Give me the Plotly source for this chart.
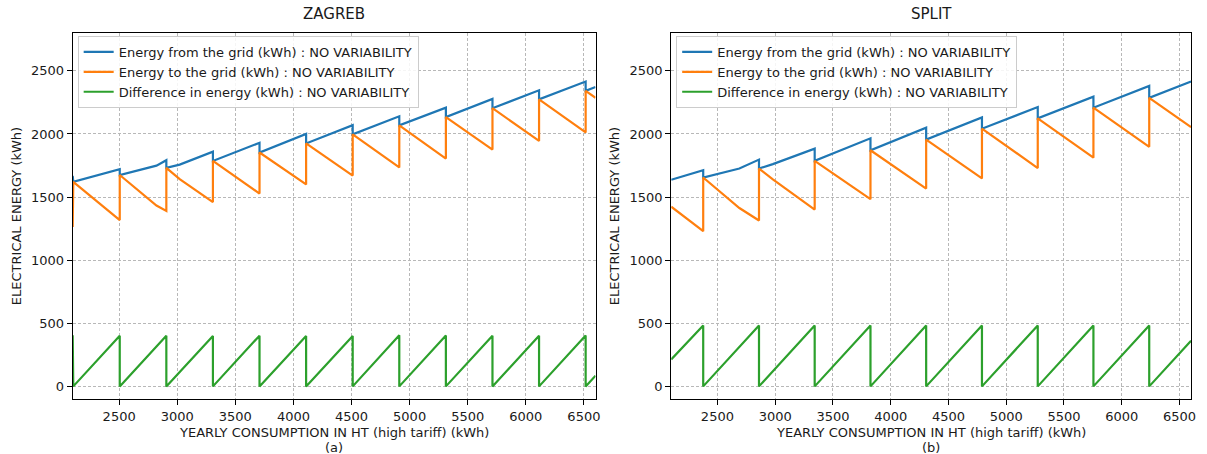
import plotly.graph_objects as go

# ---------------- DATA ----------------
# ZAGREB panel (a)
zg_x = [2100, 2105, 2505, 2505, 2821, 2906, 2906, 3021, 3307, 3307, 3708, 3708, 4109, 4109,
        4510, 4510, 4911, 4911, 5312, 5312, 5713, 5713, 6114, 6114, 6515, 6515, 6600]
zg_from = [1668, 1620, 1720, 1675, 1749, 1792, 1732, 1757, 1860, 1786, 1930, 1853, 2000, 1925,
           2070, 1997, 2140, 2068, 2208, 2134, 2278, 2204, 2346, 2274, 2415, 2342, 2372]
zg_to = [1262, 1620, 1318, 1675, 1433, 1390, 1732, 1642, 1460, 1786, 1528, 1853, 1600, 1925,
         1670, 1997, 1735, 2068, 1805, 2134, 1876, 2204, 1945, 2274, 2012, 2342, 2287]
zg_diff = [406, 0, 402, 0, 316, 402, 0, 115, 400, 0, 402, 0, 400, 0,
           400, 0, 405, 0, 403, 0, 402, 0, 401, 0, 403, 0, 85]

# SPLIT panel (b)
st_x = [2100, 2377, 2377, 2690, 2860, 2860, 2980, 3342, 3342, 3825, 3825, 4307, 4307,
        4790, 4790, 5273, 5273, 5755, 5755, 6238, 6238, 6600]
st_from = [1637, 1713, 1655, 1726, 1797, 1726, 1761, 1884, 1787, 1966, 1871, 2050, 1955,
           2131, 2042, 2213, 2124, 2295, 2208, 2381, 2286, 2416]
st_to = [1424, 1230, 1655, 1413, 1314, 1726, 1641, 1401, 1787, 1483, 1871, 1567, 1955,
         1648, 2042, 1730, 2124, 1812, 2208, 1898, 2286, 2054]
st_diff = [213, 483, 0, 313, 483, 0, 120, 483, 0, 483, 0, 483, 0,
           483, 0, 483, 0, 483, 0, 483, 0, 362]

series_names = ["Energy from the grid (kWh) : NO VARIABILITY",
                "Energy to the grid (kWh) : NO VARIABILITY",
                "Difference in energy (kWh) : NO VARIABILITY"]
colors = ["#1f77b4", "#ff7f0e", "#2ca02c"]
panel_titles = ["ZAGREB", "SPLIT"]
panel_tags = ["(a)", "(b)"]
x_ticks = [2500, 3000, 3500, 4000, 4500, 5000, 5500, 6000, 6500]
y_ticks = [0, 500, 1000, 1500, 2000, 2500]
x_title = "YEARLY CONSUMPTION IN HT (high tariff) (kWh)"
y_title = "ELECTRICAL ENERGY (kWh)"

# ---------------- FIGURE ----------------
W, H = 1207, 454
FONT = "DejaVu Sans, Liberation Sans, sans-serif"
TXT = "#1a1a1a"
fig = go.Figure()

panels = [(zg_x, [zg_from, zg_to, zg_diff]), (st_x, [st_from, st_to, st_diff])]
for p, (xs, ys) in enumerate(panels):
    xa = "x" if p == 0 else "x2"
    ya = "y" if p == 0 else "y2"
    lg = "legend" if p == 0 else "legend2"
    for name, col, yv in zip(series_names, colors, ys):
        fig.add_trace(go.Scatter(x=xs, y=yv, mode="lines", name=name,
                                 line=dict(color=col, width=2.2),
                                 xaxis=xa, yaxis=ya, legend=lg, showlegend=True))

ax_left = [(73, 598), (674, 1196)]
ax_top, ax_bot = 33, 399
ydom = [1 - ax_bot / H, 1 - ax_top / H]

axis_common = dict(showline=True, linecolor="black", linewidth=1, mirror=True,
                   ticks="outside", ticklen=5, tickcolor="black",
                   showgrid=True, gridcolor="#b8b8b8", griddash="3px,2px", gridwidth=0.8,
                   zeroline=False, tickfont=dict(family=FONT, size=13, color=TXT))

layout = dict(width=W, height=H, margin=dict(l=0, r=0, t=0, b=0),
              paper_bgcolor="white", plot_bgcolor="white",
              font=dict(family=FONT, size=13, color=TXT))
for p in range(2):
    sfx = "" if p == 0 else "2"
    l, r = ax_left[p]
    layout["xaxis" + sfx] = dict(axis_common, domain=[l / W, r / W], range=[2100, 6600],
                                 tickvals=x_ticks, anchor="y" + sfx)
    layout["yaxis" + sfx] = dict(axis_common, domain=ydom, range=[-100, 2800],
                                 tickvals=y_ticks, anchor="x" + sfx,
                                 title=dict(text=y_title,
                                            font=dict(family=FONT, size=13, color=TXT),
                                            standoff=6))
    leg = dict(x=(l + 5) / W, y=1 - (ax_top + 3) / H, xanchor="left", yanchor="top",
               bgcolor="rgba(255,255,255,0.85)", bordercolor="#cccccc", borderwidth=1,
               font=dict(family=FONT, size=13, color=TXT), tracegroupgap=0,
               itemwidth=30)
    layout["legend" if p == 0 else "legend2"] = leg

fig.update_layout(**layout)
for p in range(2):
    l, r = ax_left[p]
    cx = (l + r) / 2 / W
    fig.add_annotation(text=panel_titles[p], x=cx, y=1 - 14 / H,
                       xanchor="center", yanchor="middle",
                       xref="paper", yref="paper", showarrow=False,
                       font=dict(family=FONT, size=15, color=TXT))
    fig.add_annotation(text=x_title, x=cx, y=1 - 432 / H,
                       xanchor="center", yanchor="middle",
                       xref="paper", yref="paper", showarrow=False,
                       font=dict(family=FONT, size=13, color=TXT))
    fig.add_annotation(text=panel_tags[p], x=cx, y=1 - 447 / H,
                       xanchor="center", yanchor="middle",
                       xref="paper", yref="paper", showarrow=False,
                       font=dict(family=FONT, size=13, color=TXT))

fig.write_html("out.html", config={"displayModeBar": False},
               post_script="document.body.style.margin='0';document.body.style.overflow='hidden';")
